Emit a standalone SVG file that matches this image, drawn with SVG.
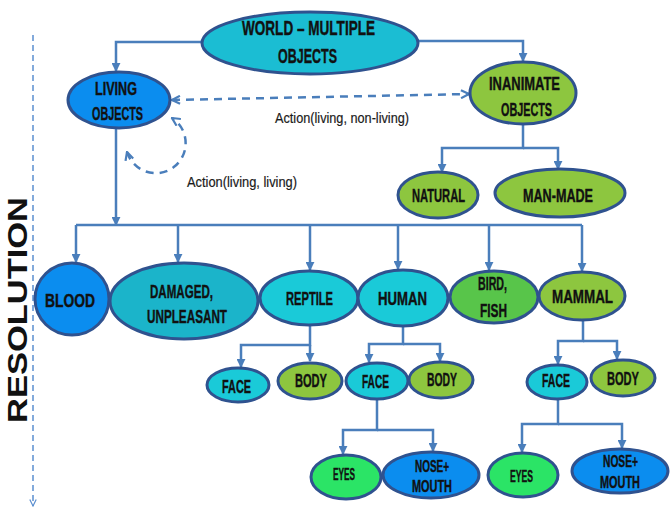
<svg xmlns="http://www.w3.org/2000/svg" width="671" height="514" viewBox="0 0 671 514">
<style>
  .n { stroke: #2F528F; stroke-width: 3; }
  .cy { fill: #1ACAD8; }
  .cw { fill: #1BBDD3; }
  .cd { fill: #1BB4CA; }
  .bl { fill: #0B8DEF; }
  .gr { fill: #8DC63F; }
  .bf { fill: #58C54A; }
  .ey { fill: #2BE466; }
  .t { font-family: "Liberation Sans", Arial, sans-serif; font-weight: bold; fill: #111; stroke: #111; stroke-width: 0.4; text-anchor: middle; }
  .lbl { font-family: "Liberation Sans", Arial, sans-serif; fill: #1a1a1a; stroke: #1a1a1a; stroke-width: 0.2; text-anchor: middle; font-size: 15px; }
  .c { fill: none; stroke: #4A7EBB; stroke-width: 2.5; }
  .d { fill: none; stroke: #4A7EBB; stroke-width: 2.5; stroke-dasharray: 8 6; }
</style>
<defs>
  <marker id="ah" viewBox="0 0 10 10" refX="9" refY="5" markerWidth="9" markerHeight="9" markerUnits="userSpaceOnUse" orient="auto">
    <path d="M0,0 L10,5 L0,10 z" fill="#4A7EBB"/>
  </marker>
  <marker id="oh" viewBox="0 0 10 10" refX="9" refY="5" markerWidth="10" markerHeight="10" markerUnits="userSpaceOnUse" orient="auto-start-reverse">
    <path d="M1,1 L9,5 L1,9" fill="none" stroke="#4A7EBB" stroke-width="2.2"/>
  </marker>
  <marker id="ax" viewBox="0 0 10 10" refX="9" refY="5" markerWidth="8" markerHeight="8" markerUnits="userSpaceOnUse" orient="auto">
    <path d="M1,1 L9,5 L1,9" fill="none" stroke="#5B8FD0" stroke-width="1.5"/>
  </marker>
</defs>

<g id="axis">
  <line x1="33" y1="35" x2="33" y2="506" stroke="#5B8FD0" stroke-width="1.5" stroke-dasharray="6 4" marker-end="url(#ax)"/>
  <text transform="translate(27,310) rotate(-90)" font-family="Liberation Sans, Arial, sans-serif" font-weight="bold" font-size="28" fill="#111" text-anchor="middle" textLength="226" lengthAdjust="spacingAndGlyphs">RESOLUTION</text>
</g>

<g id="connectors">
  <path class="c" d="M202,42 H116 V71" marker-end="url(#ah)"/>
  <path class="c" d="M417,41 H523 V61" marker-end="url(#ah)"/>
  <path class="c" d="M523,125 V148 H442 V172" marker-end="url(#ah)"/>
  <path class="c" d="M523,148 H558 V169" marker-end="url(#ah)"/>
  <path class="c" d="M116,128 V225" marker-end="url(#ah)"/>
  <path class="c" d="M76,225 H582"/>
  <path class="c" d="M76,225 V262" marker-end="url(#ah)"/>
  <path class="c" d="M178,225 V262" marker-end="url(#ah)"/>
  <path class="c" d="M310,225 V270" marker-end="url(#ah)"/>
  <path class="c" d="M398,225 V269" marker-end="url(#ah)"/>
  <path class="c" d="M489,225 V270" marker-end="url(#ah)"/>
  <path class="c" d="M582,225 V271" marker-end="url(#ah)"/>
  <path class="c" d="M310,325 V345 H241 V367" marker-end="url(#ah)"/>
  <path class="c" d="M310,345 V361" marker-end="url(#ah)"/>
  <path class="c" d="M403,325 V344 H369 V362" marker-end="url(#ah)"/>
  <path class="c" d="M403,344 H440 V361" marker-end="url(#ah)"/>
  <path class="c" d="M377,399 V430 H343 V454" marker-end="url(#ah)"/>
  <path class="c" d="M377,430 H433 V451" marker-end="url(#ah)"/>
  <path class="c" d="M583,320 V341 H558 V364" marker-end="url(#ah)"/>
  <path class="c" d="M583,341 H617 V359" marker-end="url(#ah)"/>
  <path class="c" d="M558,399 V424 H522 V452" marker-end="url(#ah)"/>
  <path class="c" d="M558,424 H622 V448" marker-end="url(#ah)"/>
  <path class="d" d="M172,100 L469,94" marker-start="url(#oh)" marker-end="url(#oh)"/>
  <path class="d" d="M127,152 A30,30 0 1 0 172,118" stroke-dasharray="7 5" marker-start="url(#oh)" marker-end="url(#oh)"/>
  <text class="lbl" x="342" y="123" textLength="134" lengthAdjust="spacingAndGlyphs">Action(living, non-living)</text>
  <text class="lbl" x="242" y="187" textLength="110" lengthAdjust="spacingAndGlyphs">Action(living, living)</text>
</g>

<g id="world">
  <ellipse class="n cw" cx="310" cy="43" rx="108" ry="31"/>
  <text class="t" font-size="20.5" x="308.5" y="35" textLength="133" lengthAdjust="spacingAndGlyphs">WORLD – MULTIPLE</text>
  <text class="t" font-size="20.5" x="307.5" y="63" textLength="59" lengthAdjust="spacingAndGlyphs">OBJECTS</text>
</g>
<g id="living">
  <ellipse class="n bl" cx="119" cy="100" rx="51" ry="28"/>
  <text class="t" font-size="18" x="116" y="95" textLength="42" lengthAdjust="spacingAndGlyphs">LIVING</text>
  <text class="t" font-size="18" x="117.5" y="120" textLength="51" lengthAdjust="spacingAndGlyphs">OBJECTS</text>
</g>
<g id="inanimate">
  <ellipse class="n gr" cx="523" cy="93" rx="53" ry="31"/>
  <text class="t" font-size="18" x="524.5" y="90" textLength="71" lengthAdjust="spacingAndGlyphs">INANIMATE</text>
  <text class="t" font-size="18" x="526.5" y="116" textLength="51" lengthAdjust="spacingAndGlyphs">OBJECTS</text>
</g>
<g id="natural">
  <ellipse class="n gr" cx="438" cy="195" rx="40" ry="23"/>
  <text class="t" font-size="18" x="438.5" y="202" textLength="53" lengthAdjust="spacingAndGlyphs">NATURAL</text>
</g>
<g id="manmade">
  <ellipse class="n gr" cx="560" cy="193" rx="65" ry="24"/>
  <text class="t" font-size="18" x="558" y="202" textLength="70" lengthAdjust="spacingAndGlyphs">MAN-MADE</text>
</g>
<g id="blood">
  <ellipse class="n bl" cx="72" cy="299" rx="37" ry="36"/>
  <text class="t" font-size="18" x="70" y="307" textLength="50" lengthAdjust="spacingAndGlyphs">BLOOD</text>
</g>
<g id="damaged">
  <ellipse class="n cd" cx="184" cy="301" rx="74" ry="38" stroke-width="3.5"/>
  <text class="t" font-size="18" x="181.5" y="298" textLength="63" lengthAdjust="spacingAndGlyphs">DAMAGED,</text>
  <text class="t" font-size="18" x="187" y="323" textLength="80" lengthAdjust="spacingAndGlyphs">UNPLEASANT</text>
</g>
<g id="reptile">
  <ellipse class="n cy" cx="309" cy="298" rx="49" ry="27"/>
  <text class="t" font-size="18" x="309.5" y="305" textLength="47" lengthAdjust="spacingAndGlyphs">REPTILE</text>
</g>
<g id="human">
  <ellipse class="n cy" cx="403" cy="298" rx="45" ry="28"/>
  <text class="t" font-size="18" x="402.5" y="305" textLength="49" lengthAdjust="spacingAndGlyphs">HUMAN</text>
</g>
<g id="birdfish">
  <ellipse class="n bf" cx="494" cy="297" rx="44" ry="26"/>
  <text class="t" font-size="18" x="492.5" y="290" textLength="29" lengthAdjust="spacingAndGlyphs">BIRD,</text>
  <text class="t" font-size="18" x="493.5" y="317" textLength="27" lengthAdjust="spacingAndGlyphs">FISH</text>
</g>
<g id="mammal">
  <ellipse class="n gr" cx="582" cy="296" rx="43" ry="24"/>
  <text class="t" font-size="18" x="582.5" y="303" textLength="61" lengthAdjust="spacingAndGlyphs">MAMMAL</text>
</g>
<g id="reptile-face">
  <ellipse class="n cy" cx="238" cy="385" rx="31" ry="17" stroke-width="3.5"/>
  <text class="t" font-size="18" x="236.5" y="393" textLength="29" lengthAdjust="spacingAndGlyphs">FACE</text>
</g>
<g id="reptile-body">
  <ellipse class="n gr" cx="310" cy="381" rx="32" ry="18" stroke-width="3.5"/>
  <text class="t" font-size="18" x="311" y="387" textLength="32" lengthAdjust="spacingAndGlyphs">BODY</text>
</g>
<g id="human-face">
  <ellipse class="n cy" cx="377" cy="381" rx="31" ry="18" stroke-width="3.5"/>
  <text class="t" font-size="18" x="375.5" y="388" textLength="27" lengthAdjust="spacingAndGlyphs">FACE</text>
</g>
<g id="human-body">
  <ellipse class="n gr" cx="441" cy="380" rx="32" ry="18" stroke-width="3.5"/>
  <text class="t" font-size="18" x="442" y="386" textLength="30" lengthAdjust="spacingAndGlyphs">BODY</text>
</g>
<g id="human-eyes">
  <ellipse class="n ey" cx="346" cy="477" rx="35" ry="22" stroke-width="3.5"/>
  <text class="t" font-size="16" x="344" y="480" textLength="22" lengthAdjust="spacingAndGlyphs">EYES</text>
</g>
<g id="human-nosemouth">
  <ellipse class="n bl" cx="431" cy="475" rx="48" ry="23" stroke-width="3.5"/>
  <text class="t" font-size="16" x="432" y="472" textLength="34" lengthAdjust="spacingAndGlyphs">NOSE+</text>
  <text class="t" font-size="16" x="432" y="492" textLength="40" lengthAdjust="spacingAndGlyphs">MOUTH</text>
</g>
<g id="mammal-face">
  <ellipse class="n cy" cx="557" cy="382" rx="30" ry="17" stroke-width="3.5"/>
  <text class="t" font-size="18" x="556" y="387" textLength="28" lengthAdjust="spacingAndGlyphs">FACE</text>
</g>
<g id="mammal-body">
  <ellipse class="n gr" cx="623" cy="378" rx="32" ry="18" stroke-width="3.5"/>
  <text class="t" font-size="18" x="623" y="385" textLength="32" lengthAdjust="spacingAndGlyphs">BODY</text>
</g>
<g id="mammal-eyes">
  <ellipse class="n ey" cx="523" cy="475" rx="35" ry="22" stroke-width="3.5"/>
  <text class="t" font-size="16" x="521.5" y="482" textLength="23" lengthAdjust="spacingAndGlyphs">EYES</text>
</g>
<g id="mammal-nosemouth">
  <ellipse class="n bl" cx="620" cy="471" rx="48" ry="22" stroke-width="3.5"/>
  <text class="t" font-size="16" x="620.5" y="467" textLength="35" lengthAdjust="spacingAndGlyphs">NOSE+</text>
  <text class="t" font-size="16" x="620" y="488" textLength="40" lengthAdjust="spacingAndGlyphs">MOUTH</text>
</g>
</svg>
